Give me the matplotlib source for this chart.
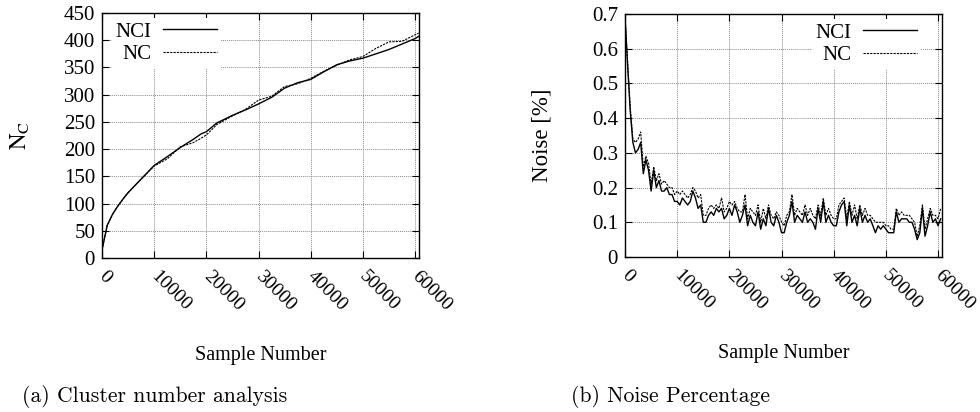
import matplotlib
matplotlib.use('Agg')
import matplotlib.pyplot as plt
from matplotlib.transforms import ScaledTranslation
import numpy as np

plt.rcParams['font.family'] = ['Liberation Serif', 'DejaVu Serif']
plt.rcParams['mathtext.fontset'] = 'stix'

# cluster number curves (sampled every 2500)
nc_x = [0, 1000, 2000, 3000, 4000, 5000, 7500, 10000, 12500, 15000, 17500, 19000,
        20000, 22000, 25000, 27500, 30000, 32500, 35000, 37500, 40000, 42500,
        45000, 47500, 50000, 52500, 55000, 57500, 60000, 60700]
nci_count = [15, 60, 80, 95, 108, 120, 145, 170, 186, 203, 218, 228,
             232, 248, 262, 272, 283, 295, 312, 322, 328, 342,
             355, 362, 367, 375, 383, 393, 403, 407]
nc_count = [15, 60, 80, 95, 108, 120, 145, 169, 182, 204, 212, 220,
            226, 245, 261, 273, 290, 297, 315, 320, 330, 343,
            354, 364, 370, 385, 397, 398, 410, 413]

# noise percentage (sampled every 500)
noise_x = list(range(0, 61000, 500))
nci_noise = [0.69, 0.55, 0.42, 0.33, 0.30, 0.31, 0.33, 0.24, 0.28, 0.25,
             0.19, 0.25, 0.20, 0.22, 0.19, 0.19, 0.20, 0.18, 0.18, 0.16,
             0.16, 0.15, 0.17, 0.16, 0.15, 0.16, 0.19, 0.17, 0.14, 0.15,
             0.10, 0.10, 0.12, 0.13, 0.12, 0.14, 0.13, 0.14, 0.11, 0.12,
             0.14, 0.12, 0.15, 0.13, 0.10, 0.12, 0.15, 0.09, 0.12, 0.10,
             0.09, 0.13, 0.08, 0.11, 0.09, 0.14, 0.10, 0.09, 0.12, 0.10,
             0.07, 0.07, 0.10, 0.12, 0.16, 0.10, 0.12, 0.11, 0.10, 0.13,
             0.10, 0.11, 0.10, 0.08, 0.14, 0.10, 0.16, 0.10, 0.12, 0.10,
             0.09, 0.09, 0.13, 0.15, 0.16, 0.09, 0.15, 0.10, 0.12, 0.09,
             0.14, 0.10, 0.12, 0.10, 0.11, 0.09, 0.07, 0.09, 0.08, 0.09,
             0.08, 0.07, 0.07, 0.07, 0.13, 0.10, 0.11, 0.11, 0.11, 0.10,
             0.10, 0.08, 0.05, 0.07, 0.14, 0.06, 0.09, 0.13, 0.10, 0.11,
             0.09, 0.11]
nc_noise = [0.69, 0.56, 0.43, 0.34, 0.33, 0.34, 0.36, 0.26, 0.29, 0.27,
            0.21, 0.26, 0.22, 0.24, 0.21, 0.22, 0.21, 0.20, 0.20, 0.18,
            0.19, 0.18, 0.19, 0.18, 0.17, 0.18, 0.20, 0.19, 0.17, 0.18,
            0.12, 0.12, 0.14, 0.15, 0.14, 0.15, 0.14, 0.17, 0.13, 0.14,
            0.16, 0.15, 0.16, 0.14, 0.13, 0.13, 0.18, 0.11, 0.14, 0.13,
            0.12, 0.15, 0.10, 0.14, 0.11, 0.15, 0.12, 0.11, 0.13, 0.12,
            0.10, 0.09, 0.12, 0.13, 0.18, 0.12, 0.14, 0.13, 0.12, 0.15,
            0.12, 0.14, 0.12, 0.11, 0.15, 0.12, 0.17, 0.12, 0.14, 0.12,
            0.11, 0.11, 0.15, 0.16, 0.17, 0.11, 0.16, 0.12, 0.15, 0.11,
            0.15, 0.12, 0.14, 0.12, 0.12, 0.11, 0.10, 0.10, 0.10, 0.10,
            0.09, 0.09, 0.08, 0.08, 0.14, 0.12, 0.13, 0.12, 0.12, 0.12,
            0.11, 0.10, 0.06, 0.09, 0.15, 0.08, 0.11, 0.14, 0.12, 0.12,
            0.11, 0.14]

xticks = [0, 10000, 20000, 30000, 40000, 50000, 60000]

fig = plt.figure(figsize=(9.8, 4.12), dpi=100)
ax1 = fig.add_axes([0.1041, 0.3738, 0.3235, 0.5946])
ax2 = fig.add_axes([0.6378, 0.3762, 0.3235, 0.5898])


def style(ax, ylim, yticks, ylabel, ylabel_x):
    ax.set_xlim(0, 60770)
    ax.set_ylim(*ylim)
    ax.set_xticks(xticks)
    ax.set_yticks(yticks)
    ax.tick_params(axis='y', labelsize=15, pad=5)
    ax.tick_params(direction='in', top=True, right=True, length=5, width=0.8)
    ax.tick_params(axis='x', pad=7)
    ax.set_xticklabels([str(t) for t in xticks], rotation=-45, ha='left',
                       va='top', rotation_mode='anchor', fontsize=14)
    # gnuplot puts rotated labels just right of the tick
    shift = ScaledTranslation(4 / 72, 0, fig.dpi_scale_trans)
    for lab in ax.get_xticklabels():
        lab.set_transform(lab.get_transform() + shift)
    ax.grid(True, linestyle=(0, (1, 1)), color='#8a8a8a', linewidth=0.7)
    for s in ax.spines.values():
        s.set_linewidth(1.0)
    ax.set_xlabel('Sample Number', fontsize=14.5)
    ax.xaxis.set_label_coords(0.5, -0.36)
    ax.set_ylabel(ylabel, fontsize=16.5)
    ax.yaxis.set_label_coords(ylabel_x, 0.5)


legend_kw = dict(markerfirst=False, fontsize=15, handlelength=2.6,
                 frameon=True, fancybox=False, framealpha=1, edgecolor='none',
                 borderaxespad=0.0, borderpad=0.2, labelspacing=0.15,
                 handletextpad=0.55)

ax1.plot(nc_x, nci_count, color='black', linewidth=1.0, label='NCI')
ax1.plot(nc_x, nc_count, color='black', linewidth=0.8, linestyle=(0, (2, 1)), label='NC')
style(ax1, (0, 450), range(0, 451, 50), r'$\mathrm{N_C}$', -0.22)
ax1.legend(loc='upper left', bbox_to_anchor=(0.03, 0.98), **legend_kw)

ax2.plot(noise_x, nci_noise, color='black', linewidth=1.0, label='NCI')
ax2.plot(noise_x, nc_noise, color='black', linewidth=0.8, linestyle=(0, (2, 1)), label='NC')
style(ax2, (0, 0.7), [0, 0.1, 0.2, 0.3, 0.4, 0.5, 0.6, 0.7], 'Noise [%]', -0.23)
ax2.set_yticklabels(['0', '0.1', '0.2', '0.3', '0.4', '0.5', '0.6', '0.7'])
ax2.legend(loc='upper right', bbox_to_anchor=(0.935, 0.98), **legend_kw)

fig.text(0.022, 0.025, '(a) Cluster number analysis', family='cmr10', fontsize=15.6)
fig.text(0.583, 0.025, '(b) Noise Percentage', family='cmr10', fontsize=15.6)

fig.savefig('out.png', dpi=100)
